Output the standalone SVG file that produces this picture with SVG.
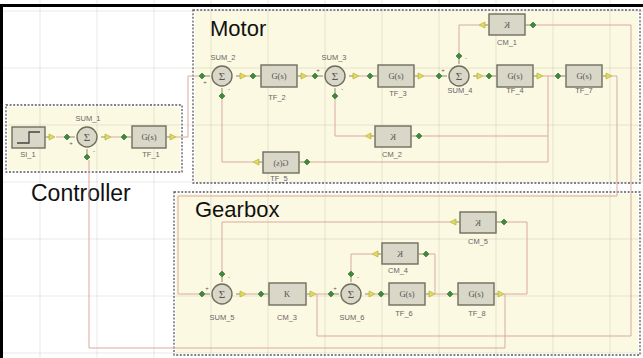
<svg xmlns="http://www.w3.org/2000/svg" width="643" height="358" viewBox="0 0 643 358">
<style>
.grp{fill:#fcf9e3}
.dash{fill:none;stroke:#5a5a5a;stroke-width:1.3;stroke-dasharray:2 1.6}
.grid{stroke:rgba(110,110,90,0.16);stroke-width:1}
.wire{fill:none;stroke:#dba89e;stroke-width:1}
.blk{fill:#d9d7c7;stroke:#6f6f60;stroke-width:1.4}
.bt{font-family:"Liberation Serif",serif;font-size:8.5px;fill:#555;text-anchor:middle}
.sg{font-family:"Liberation Serif",serif;font-size:11px;fill:#555;text-anchor:middle}
.lbl{font-family:"Liberation Sans",sans-serif;font-size:7.5px;fill:#666;text-anchor:middle}
.title{font-family:"Liberation Sans",sans-serif;font-size:22px;fill:#111}
.sign{font-family:"Liberation Sans",sans-serif;font-size:6px;fill:#555;text-anchor:middle}
.pin-in{fill:#3f8a3a;stroke:#2d6a2a;stroke-width:0.6}
.pin-out{fill:#e2dc5c;stroke:#aca42c;stroke-width:0.6}
.stub{stroke:#8a8a6a;stroke-width:1}
</style>
<defs>
<g id="pi"><line class="stub" x1="3" y1="0" x2="8" y2="0"/><path class="pin-in" d="M-3,0 L0,-3 L3,0 L0,3 Z"/></g>
<g id="po"><line class="stub" x1="-7" y1="0" x2="-3" y2="0"/><path class="pin-out" d="M-3,-3 L3,0 L-3,3 Z"/></g>
</defs>
<rect x="0" y="0" width="643" height="358" fill="#ffffff"/>
<g id="frames">
<g id="controller">
<rect class="grp" x="8" y="107" width="172" height="63"/>
<rect class="dash" x="6" y="105" width="176" height="67"/>
<text class="title" x="31" y="201" style="font-size:23px">Controller</text>
</g>
<g id="motor">
<rect class="grp" x="195" y="12" width="443" height="169"/>
<rect class="dash" x="193" y="10" width="447" height="173"/>
<text class="title" x="210" y="36">Motor</text>
</g>
<g id="gearbox">
<rect class="grp" x="176" y="194" width="462" height="159"/>
<rect class="dash" x="174" y="192" width="466" height="163"/>
<text class="title" x="195" y="217">Gearbox</text>
</g>
</g>
<g id="grid">
<line class="grid" x1="40" y1="0" x2="40" y2="358"/>
<line class="grid" x1="97" y1="0" x2="97" y2="358"/>
<line class="grid" x1="154" y1="0" x2="154" y2="358"/>
<line class="grid" x1="211" y1="0" x2="211" y2="358"/>
<line class="grid" x1="268" y1="0" x2="268" y2="358"/>
<line class="grid" x1="325" y1="0" x2="325" y2="358"/>
<line class="grid" x1="382" y1="0" x2="382" y2="358"/>
<line class="grid" x1="439" y1="0" x2="439" y2="358"/>
<line class="grid" x1="496" y1="0" x2="496" y2="358"/>
<line class="grid" x1="553" y1="0" x2="553" y2="358"/>
<line class="grid" x1="610" y1="0" x2="610" y2="358"/>
<line class="grid" x1="0" y1="11" x2="643" y2="11"/>
<line class="grid" x1="0" y1="68" x2="643" y2="68"/>
<line class="grid" x1="0" y1="125" x2="643" y2="125"/>
<line class="grid" x1="0" y1="182" x2="643" y2="182"/>
<line class="grid" x1="0" y1="239" x2="643" y2="239"/>
<line class="grid" x1="0" y1="296" x2="643" y2="296"/>
<line class="grid" x1="0" y1="353" x2="643" y2="353"/>
</g>
<g id="connectors">
<path class="wire" d="M56,137 H64"/>
<path class="wire" d="M111,137 H121"/>
<path class="wire" d="M176,137 H188 V76 H199"/>
<path class="wire" d="M246,76 H250"/>
<path class="wire" d="M307,76 H312"/>
<path class="wire" d="M359,76 H367"/>
<path class="wire" d="M424,76 H436"/>
<path class="wire" d="M483,76 H486"/>
<path class="wire" d="M543,76 H555"/>
<path class="wire" d="M548,76 V162 H310"/>
<path class="wire" d="M548,136 H422"/>
<path class="wire" d="M365,136 H335 V99"/>
<path class="wire" d="M253,162 H222 V99"/>
<path class="wire" d="M612,76 H617 V196 H178 V294 H199"/>
<path class="wire" d="M479,25 H459 V53"/>
<path class="wire" d="M536,25 H631 V336 H317 V294"/>
<path class="wire" d="M246,294 H258"/>
<path class="wire" d="M316,294 H328"/>
<path class="wire" d="M375,294 H378"/>
<path class="wire" d="M435,294 H447"/>
<path class="wire" d="M435,294 V254 H429"/>
<path class="wire" d="M372,254 H351 V271"/>
<path class="wire" d="M504,294 H527 V222 H507"/>
<path class="wire" d="M450,222 H222 V271"/>
<path class="wire" d="M505,294 V348 H89 V160"/>
</g>
<g id="SI_1">
<rect class="blk" x="12" y="127" width="33" height="21"/>
<polyline points="17,143 29,143 29,132 40,132" fill="none" stroke="#444" stroke-width="1.3"/>
<use href="#po" x="52" y="137"/>
<text class="lbl" x="28" y="157">SI_1</text>
</g>
<g id="SUM_1">
<circle class="blk" cx="87" cy="137" r="10"/>
<text class="sg" x="87" y="141">Σ</text>
<use href="#pi" transform="translate(67,137)"/>
<use href="#pi" transform="translate(87,157) rotate(-90)"/>
<use href="#po" x="108" y="137"/>
<text class="lbl" x="88" y="121">SUM_1</text>
<text class="sign" x="71" y="145">+</text>
<text class="sign" x="94" y="153">-</text>
</g>
<g id="TF_1">
<rect class="blk" x="132" y="126" width="34" height="22"/>
<text class="bt" x="149" y="140">G(s)</text>
<use href="#pi" x="124" y="137"/>
<use href="#po" x="173" y="137"/>
<text class="lbl" x="151" y="157">TF_1</text>
</g>
<g id="SUM_2">
<circle class="blk" cx="222" cy="76" r="10"/>
<text class="sg" x="222" y="80">Σ</text>
<use href="#pi" x="202" y="76"/>
<use href="#pi" transform="translate(222,96) rotate(-90)"/>
<use href="#po" x="243" y="76"/>
<text class="lbl" x="223" y="60">SUM_2</text>
<text class="sign" x="205" y="84">+</text>
<text class="sign" x="229" y="91">-</text>
</g>
<g id="TF_2">
<rect class="blk" x="261" y="65" width="36" height="22"/>
<text class="bt" x="279" y="79">G(s)</text>
<use href="#pi" x="253" y="76"/>
<use href="#po" x="304" y="76"/>
<text class="lbl" x="277" y="100">TF_2</text>
</g>
<g id="SUM_3">
<circle class="blk" cx="335" cy="76" r="10"/>
<text class="sg" x="335" y="80">Σ</text>
<use href="#pi" x="315" y="76"/>
<use href="#pi" transform="translate(335,96) rotate(-90)"/>
<use href="#po" x="356" y="76"/>
<text class="lbl" x="334" y="60">SUM_3</text>
<text class="sign" x="318" y="72">+</text>
<text class="sign" x="342" y="91">-</text>
</g>
<g id="TF_3">
<rect class="blk" x="378" y="65" width="36" height="22"/>
<text class="bt" x="396" y="79">G(s)</text>
<use href="#pi" x="370" y="76"/>
<use href="#po" x="421" y="76"/>
<text class="lbl" x="398" y="96">TF_3</text>
</g>
<g id="SUM_4">
<circle class="blk" cx="459" cy="76" r="10"/>
<text class="sg" x="459" y="80">Σ</text>
<use href="#pi" x="439" y="76"/>
<use href="#pi" transform="translate(459,56) rotate(90)"/>
<use href="#po" x="480" y="76"/>
<text class="lbl" x="460" y="93">SUM_4</text>
<text class="sign" x="443" y="72">+</text>
<text class="sign" x="466" y="60">-</text>
</g>
<g id="TF_4">
<rect class="blk" x="497" y="65" width="36" height="22"/>
<text class="bt" x="515" y="79">G(s)</text>
<use href="#pi" x="489" y="76"/>
<use href="#po" x="540" y="76"/>
<text class="lbl" x="515" y="93">TF_4</text>
</g>
<g id="TF_7">
<rect class="blk" x="566" y="65" width="36" height="22"/>
<text class="bt" x="584" y="79">G(s)</text>
<use href="#pi" x="558" y="76"/>
<use href="#po" x="609" y="76"/>
<text class="lbl" x="584" y="93">TF_7</text>
</g>
<g id="CM_1">
<rect class="blk" x="489" y="14" width="36" height="21"/>
<text class="bt" transform="translate(507,28) scale(-1,1)">K</text>
<use href="#po" transform="translate(482,25) rotate(180)"/>
<use href="#pi" transform="translate(533,25) rotate(180)"/>
<text class="lbl" x="507" y="45">CM_1</text>
</g>
<g id="CM_2">
<rect class="blk" x="375" y="126" width="36" height="21"/>
<text class="bt" transform="translate(393,140) scale(-1,1)">K</text>
<use href="#po" transform="translate(368,136) rotate(180)"/>
<use href="#pi" transform="translate(419,136) rotate(180)"/>
<text class="lbl" x="392" y="157">CM_2</text>
</g>
<g id="TF_5">
<rect class="blk" x="263" y="152" width="36" height="21"/>
<text class="bt" transform="translate(281,166) scale(-1,1)">G(s)</text>
<use href="#po" transform="translate(256,162) rotate(180)"/>
<use href="#pi" transform="translate(307,162) rotate(180)"/>
<text class="lbl" x="279" y="181">TF_5</text>
</g>
<g id="SUM_5">
<circle class="blk" cx="222" cy="294" r="10"/>
<text class="sg" x="222" y="298">Σ</text>
<use href="#pi" x="202" y="294"/>
<use href="#pi" transform="translate(222,274) rotate(90)"/>
<use href="#po" x="243" y="294"/>
<text class="lbl" x="222" y="320">SUM_5</text>
<text class="sign" x="207" y="290">+</text>
<text class="sign" x="229" y="279">-</text>
</g>
<g id="CM_3">
<rect class="blk" x="269" y="283" width="37" height="22"/>
<text class="bt" x="287" y="297">K</text>
<use href="#pi" x="261" y="294"/>
<use href="#po" x="313" y="294"/>
<text class="lbl" x="287" y="320">CM_3</text>
</g>
<g id="SUM_6">
<circle class="blk" cx="351" cy="294" r="10"/>
<text class="sg" x="351" y="298">Σ</text>
<use href="#pi" x="331" y="294"/>
<use href="#pi" transform="translate(351,274) rotate(90)"/>
<use href="#po" x="372" y="294"/>
<text class="lbl" x="352" y="320">SUM_6</text>
<text class="sign" x="335" y="290">+</text>
<text class="sign" x="358" y="279">-</text>
</g>
<g id="TF_6">
<rect class="blk" x="389" y="283" width="36" height="22"/>
<text class="bt" x="407" y="297">G(s)</text>
<use href="#pi" x="381" y="294"/>
<use href="#po" x="432" y="294"/>
<text class="lbl" x="404" y="316">TF_6</text>
</g>
<g id="TF_8">
<rect class="blk" x="458" y="283" width="36" height="22"/>
<text class="bt" x="476" y="297">G(s)</text>
<use href="#pi" x="450" y="294"/>
<use href="#po" x="501" y="294"/>
<text class="lbl" x="477" y="316">TF_8</text>
</g>
<g id="CM_4">
<rect class="blk" x="382" y="243" width="36" height="21"/>
<text class="bt" transform="translate(400,257) scale(-1,1)">K</text>
<use href="#po" transform="translate(375,254) rotate(180)"/>
<use href="#pi" transform="translate(426,254) rotate(180)"/>
<text class="lbl" x="398" y="273">CM_4</text>
</g>
<g id="CM_5">
<rect class="blk" x="460" y="212" width="36" height="21"/>
<text class="bt" transform="translate(478,226) scale(-1,1)">K</text>
<use href="#po" transform="translate(453,222) rotate(180)"/>
<use href="#pi" transform="translate(504,222) rotate(180)"/>
<text class="lbl" x="478" y="244">CM_5</text>
</g>
<path d="M1.5,358 V5.5 H643" fill="none" stroke="#000" stroke-width="3"/>
</svg>
